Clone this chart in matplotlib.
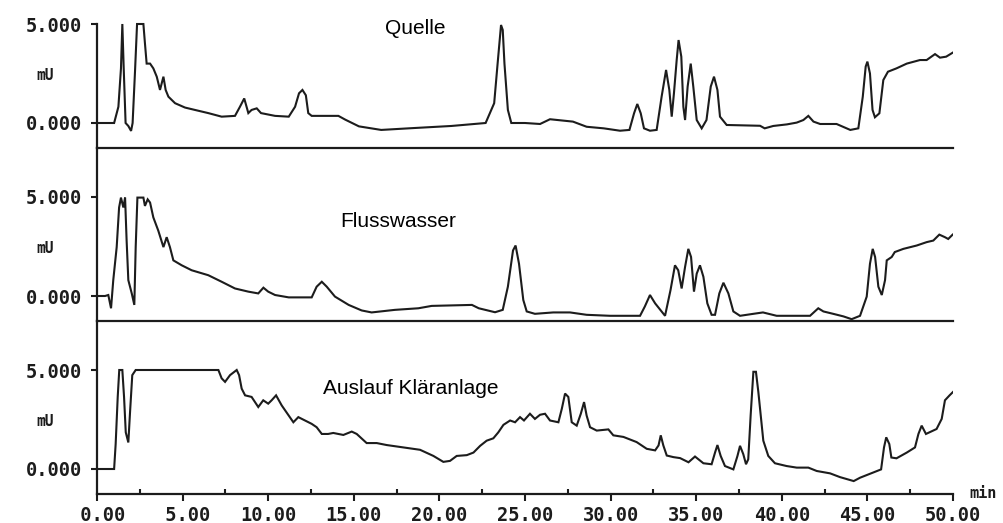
import numpy as np
import matplotlib.pyplot as plt
from matplotlib.transforms import blended_transform_factory

# retention time (min) / signal (mV)
quelle = [
    (0, 0), (1.0, 0), (1.25, 0.82), (1.40, 2.76), (1.48, 5.0), (1.56, 2.76), (1.67, 0),
    (1.83, -0.15), (1.99, -0.4), (2.08, 0), (2.22, 2.6), (2.34, 5.0), (2.71, 5.0),
    (2.80, 4.03), (2.90, 3.0), (3.10, 3.0), (3.29, 2.76), (3.49, 2.34), (3.68, 1.67),
    (3.88, 2.34), (4.01, 1.67), (4.17, 1.33), (4.56, 1.0), (5.14, 0.78), (5.72, 0.66),
    (6.5, 0.5), (7.28, 0.32), (8.06, 0.36), (8.35, 0.82), (8.6, 1.24), (8.84, 0.5),
    (9.03, 0.66), (9.33, 0.74), (9.58, 0.5), (10.4, 0.36), (11.2, 0.32), (11.57, 0.82),
    (11.8, 1.5), (12.0, 1.67), (12.2, 1.4), (12.34, 0.5), (12.54, 0.36), (14.1, 0.36),
    (14.5, 0.17), (15.3, -0.17), (16.6, -0.35), (18.4, -0.26), (20.7, -0.15), (22.7, 0),
    (23.2, 1.0), (23.4, 3.0), (23.6, 4.95), (23.7, 4.7), (23.8, 3.0), (24.0, 0.66),
    (24.2, 0), (25.0, 0), (25.88, -0.05), (26.46, 0.19), (27.24, 0.12), (27.8, 0.07),
    (28.6, -0.19), (29.6, -0.27), (30.55, -0.39), (31.1, -0.35), (31.37, 0.49),
    (31.56, 0.96), (31.76, 0.49), (31.95, -0.27), (32.3, -0.39), (32.69, -0.35),
    (32.98, 1.33), (33.24, 2.68), (33.43, 1.67), (33.57, 0.32), (33.7, 1.5), (33.86, 3.18),
    (33.97, 4.19), (34.13, 3.35), (34.25, 0.82), (34.35, 0.15), (34.5, 1.84), (34.68, 3.0),
    (34.83, 1.84), (35.03, 0.15), (35.32, -0.27), (35.6, 0.15), (35.85, 1.84), (36.04, 2.34),
    (36.24, 1.67), (36.39, 0.32), (36.78, -0.1), (38.73, -0.14), (39.0, -0.27), (39.5, -0.15),
    (40.3, -0.07), (40.87, 0.02), (41.26, 0.15), (41.55, 0.36), (41.85, 0.07), (42.24, -0.05),
    (43.2, -0.05), (44.0, -0.35), (44.47, -0.27), (44.73, 1.33), (44.9, 2.85), (45.0, 3.1),
    (45.15, 2.5), (45.3, 0.66), (45.44, 0.29), (45.7, 0.49), (45.93, 2.17), (46.2, 2.59),
    (46.7, 2.76), (47.3, 3.0), (48.07, 3.18), (48.46, 3.18), (48.95, 3.48), (49.24, 3.3),
    (49.6, 3.35), (49.98, 3.55),
]

flusswasser = [
    (0, 0), (0.47, 0), (0.66, 0.05), (0.82, -0.62), (0.95, 0.8), (1.15, 2.47), (1.29, 4.47),
    (1.4, 4.97), (1.54, 4.47), (1.64, 4.97), (1.73, 2.8), (1.83, 0.8), (2.03, 0.13),
    (2.18, -0.45), (2.26, 2.47), (2.36, 4.97), (2.71, 4.97), (2.8, 4.55), (2.96, 4.88),
    (3.1, 4.72), (3.29, 3.97), (3.58, 3.3), (3.88, 2.47), (4.07, 2.97), (4.26, 2.47),
    (4.46, 1.8), (4.95, 1.55), (5.53, 1.3), (6.5, 1.05), (7.28, 0.72), (8.06, 0.38),
    (8.84, 0.22), (9.42, 0.13), (9.72, 0.42), (10.0, 0.22), (10.4, 0.05), (11.2, -0.07),
    (12.54, -0.07), (12.83, 0.47), (13.13, 0.72), (13.42, 0.47), (13.9, -0.03), (14.7, -0.45),
    (15.46, -0.73), (16.04, -0.83), (17.4, -0.7), (18.77, -0.62), (19.55, -0.5), (21.9, -0.45),
    (22.3, -0.62), (23.25, -0.82), (23.7, -0.7), (24.0, 0.47), (24.3, 2.3), (24.45, 2.55),
    (24.65, 1.63), (24.9, -0.2), (25.1, -0.78), (25.58, -0.9), (26.65, -0.83), (27.63, -0.83),
    (28.6, -0.95), (29.97, -1.0), (31.72, -1.0), (32.0, -0.53), (32.3, 0.05), (32.6, -0.37),
    (33.18, -1.0), (33.5, 0.3), (33.76, 1.55), (33.95, 1.3), (34.15, 0.38), (34.35, 1.47),
    (34.54, 2.38), (34.7, 1.97), (34.87, 0.22), (35.03, 1.13), (35.22, 1.55), (35.42, 0.97),
    (35.65, -0.37), (35.9, -0.95), (36.1, -0.95), (36.35, 0.13), (36.59, 0.67), (36.88, 0.13),
    (37.17, -0.78), (37.56, -1.0), (38.34, -0.9), (38.9, -0.83), (39.7, -1.0), (41.65, -1.0),
    (42.13, -0.62), (42.43, -0.78), (43.0, -0.9), (43.6, -1.03), (44.08, -1.17), (44.57, -1.0),
    (44.96, -0.03), (45.15, 1.63), (45.31, 2.38), (45.45, 1.97), (45.64, 0.47), (45.84, 0.05),
    (46.03, 0.8), (46.13, 1.8), (46.42, 1.97), (46.6, 2.22), (47.1, 2.38), (47.88, 2.55),
    (48.46, 2.72), (48.85, 2.8), (49.2, 3.1), (49.53, 2.97), (49.72, 2.88), (49.98, 3.1),
]

auslauf = [
    (0, 0), (1.0, 0), (1.09, 1.26), (1.21, 3.64), (1.3, 5.0), (1.48, 5.0), (1.58, 3.64),
    (1.68, 1.85), (1.83, 1.34), (1.93, 2.87), (2.06, 4.74), (2.26, 5.0), (7.09, 5.0),
    (7.28, 4.58), (7.48, 4.4), (7.77, 4.74), (8.16, 5.0), (8.3, 4.74), (8.45, 4.06),
    (8.65, 3.72), (9.03, 3.64), (9.42, 3.13), (9.71, 3.47), (10.0, 3.3), (10.2, 3.47),
    (10.46, 3.72), (10.79, 3.21), (11.2, 2.7), (11.47, 2.36), (11.76, 2.62), (12.15, 2.45),
    (12.54, 2.28), (12.83, 2.11), (13.13, 1.77), (13.5, 1.77), (13.8, 1.82), (14.39, 1.72),
    (14.88, 1.89), (15.17, 1.77), (15.75, 1.31), (16.34, 1.31), (16.92, 1.21), (17.9, 1.09),
    (18.87, 0.97), (19.65, 0.66), (20.23, 0.36), (20.62, 0.41), (21.01, 0.66), (21.6, 0.7),
    (21.99, 0.83), (22.38, 1.17), (22.76, 1.43), (23.15, 1.55), (23.44, 1.85), (23.74, 2.23),
    (24.13, 2.45), (24.42, 2.36), (24.71, 2.62), (24.94, 2.45), (25.29, 2.79), (25.58, 2.53),
    (25.88, 2.74), (26.17, 2.79), (26.46, 2.45), (26.95, 2.36), (27.15, 3.04), (27.34, 3.81),
    (27.53, 3.64), (27.73, 2.36), (28.02, 2.19), (28.26, 2.79), (28.45, 3.38), (28.6, 2.7),
    (28.8, 2.11), (29.19, 1.94), (29.87, 2.0), (30.16, 1.7), (30.75, 1.62), (31.52, 1.36),
    (32.11, 1.02), (32.6, 0.94), (32.8, 1.19), (32.93, 1.7), (33.08, 1.19), (33.28, 0.68),
    (33.67, 0.6), (34.06, 0.55), (34.55, 0.34), (34.93, 0.63), (35.42, 0.29), (35.9, 0.24),
    (36.1, 0.83), (36.24, 1.21), (36.43, 0.66), (36.68, 0.15), (37.17, -0.02), (37.41, 0.66),
    (37.56, 1.17), (37.75, 0.75), (37.91, 0.24), (38.04, 0.49), (38.18, 2.7), (38.34, 4.91),
    (38.49, 4.91), (38.63, 3.89), (38.77, 2.7), (38.92, 1.43), (39.21, 0.66), (39.6, 0.29),
    (40.28, 0.15), (40.87, 0.07), (41.55, 0.07), (42.04, -0.1), (42.82, -0.22), (43.4, -0.41),
    (44.2, -0.61), (44.57, -0.44), (45.3, -0.19), (45.8, -0.02), (45.97, 1.09), (46.1, 1.6),
    (46.28, 1.26), (46.4, 0.58), (46.7, 0.54), (47.3, 0.83), (47.78, 1.09), (47.98, 1.77),
    (48.17, 2.19), (48.42, 1.77), (49.04, 2.02), (49.34, 2.53), (49.53, 3.47), (49.8, 3.72),
    (50.0, 3.89),
]

names = ["Quelle", "Flusswasser", "Auslauf Kläranlage"]
series = [quelle, flusswasser, auslauf]
y_ticks = [0, 5]
y_ticklabels = ["0.000", "5.000"]
x_major = np.arange(0, 51, 5)
x_ticklabels = ["%5.2f" % v for v in x_major]   # " 0.00", " 5.00", "10.00", ...

W, H = 1004, 523
fig = plt.figure(figsize=(W / 100, H / 100), dpi=100)

ink = "#1c1c1c"
mono = dict(family="DejaVu Sans Mono", weight="bold", color=ink)
scale = 19.8      # pixels per mV
zero_off = 25     # pixels from panel bottom to 0.000

# panel edges in pixels from top
panels = [(0, 148), (148, 321), (321, 494)]
# label positions: (x centre px, baseline px)
title_pos = [(415, 34), (398, 227), (411, 394)]

axes = []
for i, (top, bot) in enumerate(panels):
    ax = fig.add_axes([97 / W, (H - bot) / H, 856 / W, (bot - top) / H])
    t, v = zip(*series[i])
    ax.plot(t, v, color=ink, lw=1.5, solid_joinstyle="miter")
    ax.set_xlim(0, 50)
    ax.set_ylim(-zero_off / scale, (bot - top - zero_off) / scale)
    for s in ["top", "right"]:
        ax.spines[s].set_visible(False)
    for s in ["left", "bottom"]:
        ax.spines[s].set_linewidth(1.6)
        ax.spines[s].set_color(ink)
    if i == 0:
        ax.spines["left"].set_bounds(-zero_off / scale, 5)
    ax.set_yticks(y_ticks)
    ax.set_yticklabels(y_ticklabels, fontdict=mono, fontsize=13.5)
    ax.tick_params(axis="y", direction="out", length=4.5, width=1.5, color=ink, pad=6)
    tr = blended_transform_factory(ax.transAxes, ax.transData)
    ax.text(-52 / 856, 2.4, "mU", transform=tr, ha="center", va="center", fontsize=10.5, **mono)
    ax.patch.set_visible(False)
    if i < 2:
        ax.tick_params(axis="x", bottom=False, labelbottom=False)
    else:
        ax.set_xticks(x_major)
        ax.set_xticklabels(x_ticklabels, fontdict=mono, fontsize=13.5)
        ax.set_xticks(np.arange(2.5, 50, 5), minor=True)
        ax.tick_params(axis="x", which="major", direction="out", length=5, width=1.5,
                       color=ink, pad=3.5)
        ax.tick_params(axis="x", which="minor", direction="in", length=3.5, width=1.5,
                       color=ink)
    tx, ty = title_pos[i]
    fig.text(tx / W, 1 - ty / H, names[i], ha="center", va="baseline",
             family="Liberation Sans", fontsize=15, color="black")
    axes.append(ax)

fig.text(983 / W, 1 - 494 / H, "min", ha="center", va="center", fontsize=11, **mono)

fig.savefig("out.png", dpi=100, facecolor="white")
